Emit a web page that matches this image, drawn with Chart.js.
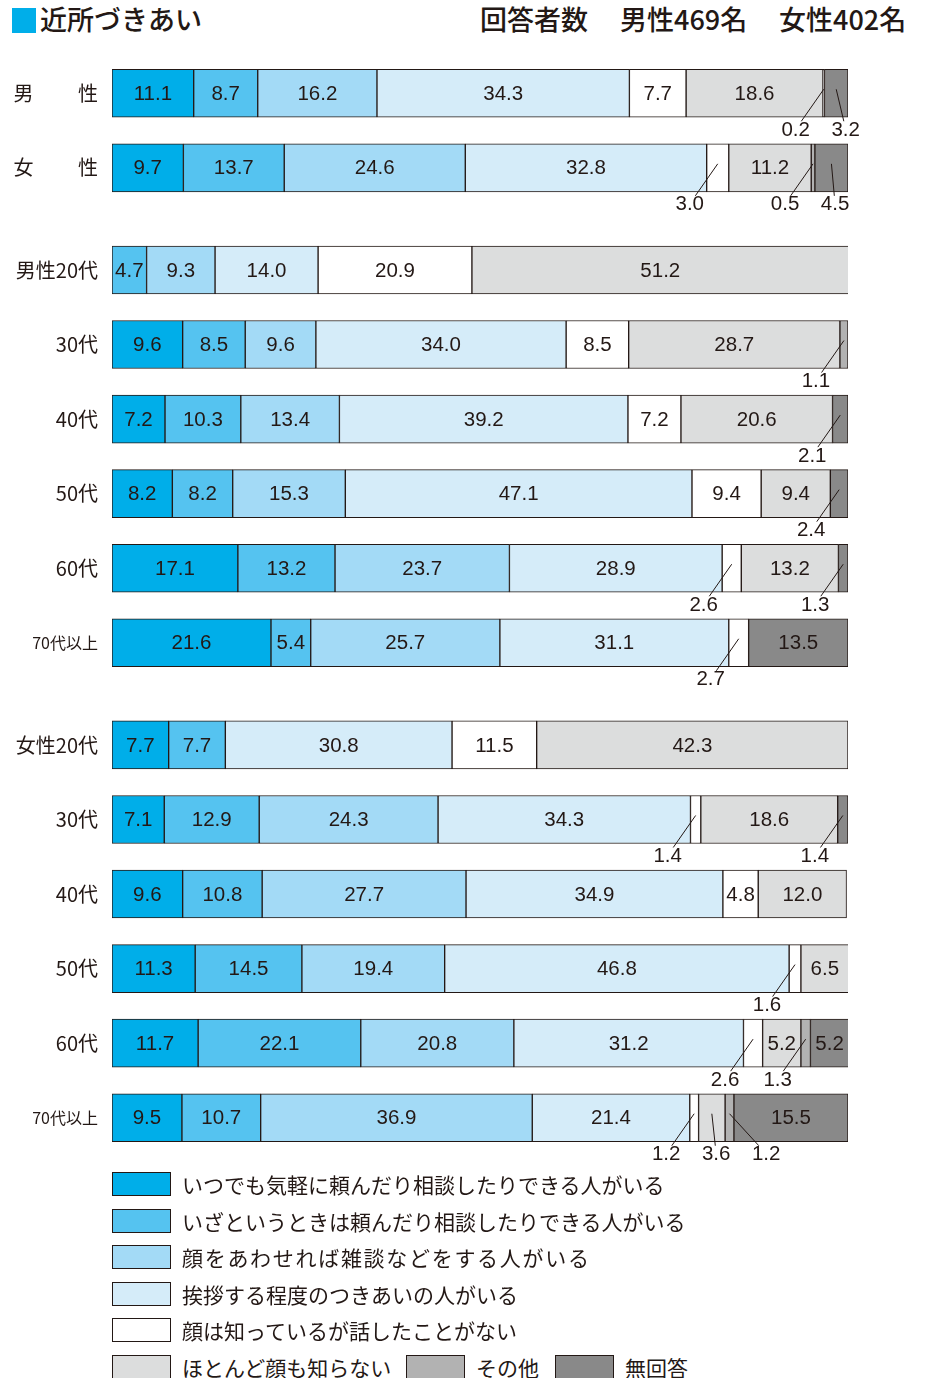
<!DOCTYPE html>
<html lang="ja">
<head>
<meta charset="utf-8">
<script src="https://cdn.jsdelivr.net/npm/chart.js"></script>
<style>
  body { margin: 0; width: 928px; height: 1378px; position: relative; background: #fff;
         font-family: "Noto Sans CJK JP", sans-serif; color: #231815; overflow: hidden; }
  #chart { position: absolute; left: 0; top: 0; }
  .head { position: absolute; top: 1px; font-size: 27px; line-height: 36px; font-weight: 500; white-space: nowrap; }
  .sq { position: absolute; left: 12px; top: 8px; width: 24px; height: 25px; background: #00aee9; }
  .leg { position: absolute; height: 24px; display: flex; align-items: center; white-space: nowrap; font-size: 21px; }
  .leg .box { width: 57px; height: 22px; border: 1px solid #231815; margin-right: 11px; box-sizing: content-box; }
</style>
</head>
<body>
<div class="sq"></div>
<div class="head" style="left:40px">近所づきあい</div>
<div class="head" style="left:480px">回答者数</div>
<div class="head" style="left:620px">男性469名</div>
<div class="head" style="left:779px">女性402名</div>
<canvas id="chart" width="928" height="1200"></canvas>
<div id="legend"></div>
<script>
// rows (top to bottom) and group sizes
var rowLabels = ['男\u3000\u3000 性', '女\u3000\u3000 性',
  '男性20代', '30代', '40代', '50代', '60代', '70代以上',
  '女性20代', '30代', '40代', '50代', '60代', '70代以上'];
var groupSizes = [2, 6, 6];

var seriesNames = [
  'いつでも気軽に頼んだり相談したりできる人がいる',
  'いざというときは頼んだり相談したりできる人がいる',
  '顔をあわせれば雑談などをする人がいる',
  '挨拶する程度のつきあいの人がいる',
  '顔は知っているが話したことがない',
  'ほとんど顔も知らない',
  'その他',
  '無回答'
];
var seriesColors = ['#00aee9', '#55c3f0', '#a3daf6', '#d5ecf9', '#ffffff', '#dcdddd', '#b2b2b2', '#898989'];

// percentages per answer, one value per row
var itsudemo  = [11.1, 9.7, 0, 9.6, 7.2, 8.2, 17.1, 21.6, 7.7, 7.1, 9.6, 11.3, 11.7, 9.5];
var izato     = [8.7, 13.7, 4.7, 8.5, 10.3, 8.2, 13.2, 5.4, 7.7, 12.9, 10.8, 14.5, 22.1, 10.7];
var zatsudan  = [16.2, 24.6, 9.3, 9.6, 13.4, 15.3, 23.7, 25.7, 0, 24.3, 27.7, 19.4, 20.8, 36.9];
var aisatsu   = [34.3, 32.8, 14.0, 34.0, 39.2, 47.1, 28.9, 31.1, 30.8, 34.3, 34.9, 46.8, 31.2, 21.4];
var kaoDake   = [7.7, 3.0, 20.9, 8.5, 7.2, 9.4, 2.6, 2.7, 11.5, 1.4, 4.8, 1.6, 2.6, 1.2];
var shiranai  = [18.6, 11.2, 51.2, 28.7, 20.6, 9.4, 13.2, 0, 42.3, 18.6, 12.0, 6.5, 5.2, 3.6];
var sonota    = [0.2, 0.5, 0, 1.1, 0, 0, 0, 0, 0, 0, 0, 0, 1.3, 1.2];
var mukaitou  = [3.2, 4.5, 0, 0, 2.1, 2.4, 1.3, 13.5, 0, 1.4, 0, 0, 5.2, 15.5];
var seriesValues = [itsudemo, izato, zatsudan, aisatsu, kaoDake, shiranai, sonota, mukaitou];

// row position on the y scale: one unit per row, plus a gap between groups
var groupGap = 0.37;
var rowPos = [];
groupSizes.forEach(function (n, g) {
  for (var i = 0; i < n; i++) rowPos.push(rowPos.length + g * groupGap);
});

var datasets = seriesValues.map(function (vals, s) {
  return {
    label: seriesNames[s],
    data: vals.map(function (v, r) { return { x: v === 0 ? null : v, y: rowPos[r] }; }),
    backgroundColor: seriesColors[s],
    borderColor: '#231815',
    borderWidth: 1,
    borderSkipped: false,
    barThickness: 48,
    stack: 'all'
  };
});

// value labels: inside the segment, or below it with a leader line when small
var valueLabels = {
  id: 'valueLabels',
  afterDatasetsDraw: function (chart) {
    var ctx = chart.ctx;
    ctx.save();
    ctx.font = '20.5px "Liberation Sans", Arial, sans-serif';
    ctx.fillStyle = '#231815';
    ctx.strokeStyle = '#231815';
    ctx.lineWidth = 1;
    ctx.textBaseline = 'middle';
    ctx.textAlign = 'center';
    for (var r = 0; r < rowLabels.length; r++) {
      var lastX = -999;
      for (var s = 0; s < seriesValues.length; s++) {
        var v = seriesValues[s][r];
        if (!v) continue;
        var el = chart.getDatasetMeta(s).data[r];
        var p = el.getProps(['x', 'base', 'y', 'height'], true);
        var cx = (p.x + p.base) / 2;
        var txt = v.toFixed(1);
        if (v >= 4.6) {
          ctx.fillText(txt, cx, p.y + 1);
        } else {
          var bottom = p.y + p.height / 2;
          var lx = cx - 28;
          if (lx < lastX + 50) lx = lastX + 50;
          lastX = lx;
          ctx.beginPath();
          ctx.moveTo(cx, p.y - 4);
          ctx.lineTo(lx + (cx - lx) * 0.2, bottom + 4);
          ctx.stroke();
          ctx.fillText(txt, lx, bottom + 13);
        }
      }
    }
    ctx.restore();
  }
};

var ctx = document.getElementById('chart').getContext('2d');
var chart = new Chart(ctx, {
  type: 'bar',
  data: { datasets: datasets },
  options: {
    indexAxis: 'y',
    responsive: false,
    animation: false,
    devicePixelRatio: 1,
    layout: { padding: { top: 56, right: 80, bottom: 45, left: 0 } },
    plugins: { legend: { display: false }, tooltip: { enabled: false } },
    scales: {
      x: { type: 'linear', stacked: true, min: 0, max: 100, display: false },
      y: {
        type: 'linear',
        reverse: true,
        offset: false,
        min: -0.5,
        max: rowPos[rowPos.length - 1] + 0.5,
        grid: { display: false, drawTicks: false, offset: false },
        border: { display: false },
        afterBuildTicks: function (scale) {
          scale.ticks = rowPos.map(function (v) { return { value: v }; });
        },
        afterFit: function (scale) { scale.width = 112; },
        ticks: {
          autoSkip: false,
          padding: 14,
          color: '#231815',
          font: function (c) {
            var lab = rowLabels[c.index] || '';
            return { family: '"Noto Sans CJK JP", sans-serif', size: lab.indexOf('以上') >= 0 ? 16 : 20 };
          },
          callback: function (value, i) { return rowLabels[i]; }
        }
      }
    }
  },
  plugins: [valueLabels]
});

// legend
var legendSpots = [[112, 0], [112, 1], [112, 2], [112, 3], [112, 4], [112, 5], [406, 5], [555, 5]];
var legend = document.getElementById('legend');
seriesNames.forEach(function (name, s) {
  var item = document.createElement('div');
  item.className = 'leg';
  item.style.left = legendSpots[s][0] + 'px';
  item.style.top = (1172 + legendSpots[s][1] * 36.6) + 'px';
  if (s === 2) item.style.letterSpacing = '1.7px';
  var box = document.createElement('span');
  box.className = 'box';
  box.style.background = seriesColors[s];
  item.appendChild(box);
  item.appendChild(document.createTextNode(name));
  legend.appendChild(item);
});
</script>
</body>
</html>
